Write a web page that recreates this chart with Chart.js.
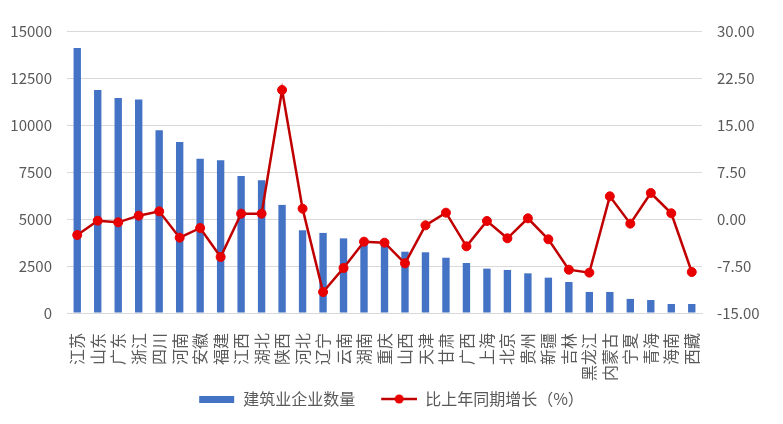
<!DOCTYPE html>
<html>
<head>
<meta charset="utf-8">
<script src="https://cdn.jsdelivr.net/npm/chart.js@4.4.1/dist/chart.umd.min.js"></script>
<style>
  html, body { margin: 0; padding: 0; background: #fff; }
  #wrap { width: 783px; height: 424px; }
</style>
</head>
<body>
<div id="wrap"><canvas id="chart"></canvas></div>
<script>
// Data
const provinces = ['江苏', '山东', '广东', '浙江', '四川', '河南', '安徽', '福建', '江西', '湖北',
    '陕西', '河北', '辽宁', '云南', '湖南', '重庆', '山西', '天津', '甘肃', '广西',
    '上海', '北京', '贵州', '新疆', '吉林', '黑龙江', '内蒙古', '宁夏', '青海', '海南', '西藏'];
const companyCounts = [14100, 11860, 11440, 11350, 9720, 9100, 8210, 8120, 7290, 7060,
    5750, 4400, 4260, 3970, 3750, 3700, 3260, 3230, 2940, 2660,
    2360, 2290, 2110, 1880, 1650, 1120, 1120, 750, 690, 480, 480];
const growthRates = [-2.55, -0.27, -0.53, 0.53, 1.22, -2.98, -1.43, -6.06, 0.85, 0.85,
    20.59, 1.65, -11.65, -7.82, -3.62, -3.78, -7.07, -1.01, 1.01, -4.36,
    -0.32, -3.08, 0.11, -3.24, -8.09, -8.56, 3.62, -0.74, 4.15, 0.91, -8.46];
const leftTicks = [0, 2500, 5000, 7500, 10000, 12500, 15000];
const rightTicks = [-15, -7.5, 0, 7.5, 15, 22.5, 30];

const barColor = '#4472C4';
const lineColor = '#C00000';
const pointColor = '#E80000';
const textColor = '#595959';
const fontFamily = '"Noto Sans CJK SC", "Noto Sans", sans-serif';

// legend icons: transparent left margin gives the gap between the two items
const iconMargin = 16;
const iconWidth = iconMargin + 36;
function makeBarIcon() {
    const c = document.createElement('canvas');
    c.width = iconWidth; c.height = 7;
    const g = c.getContext('2d');
    g.fillStyle = barColor;
    g.fillRect(iconMargin, 0, 35, 7);
    return c;
}
function makeLineIcon() {
    const c = document.createElement('canvas');
    c.width = iconWidth; c.height = 10;
    const g = c.getContext('2d');
    g.strokeStyle = lineColor;
    g.lineWidth = 2.5;
    g.beginPath(); g.moveTo(iconMargin, 5); g.lineTo(iconWidth, 5); g.stroke();
    g.fillStyle = pointColor;
    g.beginPath(); g.arc(iconMargin + 18, 5, 4.5, 0, Math.PI * 2); g.fill();
    return c;
}
const barIcon = makeBarIcon();
const lineIcon = makeLineIcon();

const ctx = document.getElementById('chart').getContext('2d');
new Chart(ctx, {
    type: 'bar',
    data: {
        labels: provinces,
        datasets: [{
            type: 'line',
            label: '比上年同期增长（%）',
            data: growthRates,
            yAxisID: 'y1',
            borderColor: lineColor,
            borderWidth: 2.5,
            pointRadius: 4.5,
            pointBackgroundColor: pointColor,
            pointBorderColor: pointColor,
            pointBorderWidth: 1,
            tension: 0,
            order: 0,
        }, {
            type: 'bar',
            label: '建筑业企业数量',
            data: companyCounts,
            yAxisID: 'y',
            backgroundColor: barColor,
            barPercentage: 0.72,
            categoryPercentage: 0.5,
            order: 1,
        }],
    },
    options: {
        responsive: true,
        maintainAspectRatio: false,
        animation: false,
        layout: { padding: { top: 31, left: 0, right: 16, bottom: 7 } },
        plugins: {
            tooltip: { enabled: false },
            legend: {
                position: 'bottom',
                labels: {
                    font: { family: fontFamily, size: 16 },
                    color: textColor,
                    usePointStyle: true,
                    pointStyleWidth: iconWidth,
                    padding: 10,
                    generateLabels: function (chart) {
                        return [{
                            text: '建筑业企业数量',
                            pointStyle: barIcon,
                            fontColor: textColor,
                            datasetIndex: 1,
                            lineWidth: 0,
                        }, {
                            text: '比上年同期增长（%）',
                            pointStyle: lineIcon,
                            fontColor: textColor,
                            datasetIndex: 0,
                            lineWidth: 0,
                        }];
                    },
                },
            },
        },
        scales: {
            x: {
                grid: { display: false },
                border: { color: '#D9D9D9', width: 1 },
                ticks: {
                    autoSkip: false,
                    maxRotation: 90,
                    minRotation: 90,
                    padding: 12,
                    color: textColor,
                    font: { family: fontFamily, size: 16 },
                },
                afterFit: function (scale) { scale.height = 68; },
            },
            y: {
                position: 'left',
                min: 0,
                max: 15000,
                afterBuildTicks: function (scale) {
                    scale.ticks = leftTicks.map(v => ({ value: v }));
                },
                afterFit: function (scale) { scale.width = 67; },
                grid: { color: '#D9D9D9', lineWidth: 1, drawTicks: false },
                border: { display: false },
                ticks: {
                    padding: 15,
                    color: textColor,
                    font: { family: fontFamily, size: 15 },
                    callback: v => String(v),
                },
            },
            y1: {
                position: 'right',
                min: -15,
                max: 30,
                afterBuildTicks: function (scale) {
                    scale.ticks = rightTicks.map(v => ({ value: v }));
                },
                afterFit: function (scale) { scale.width = 65; },
                grid: { drawOnChartArea: false, drawTicks: false },
                border: { display: false },
                ticks: {
                    padding: 15,
                    color: textColor,
                    font: { family: fontFamily, size: 15 },
                    callback: v => Number(v).toFixed(2),
                },
            },
        },
    },
});
</script>
</body>
</html>
